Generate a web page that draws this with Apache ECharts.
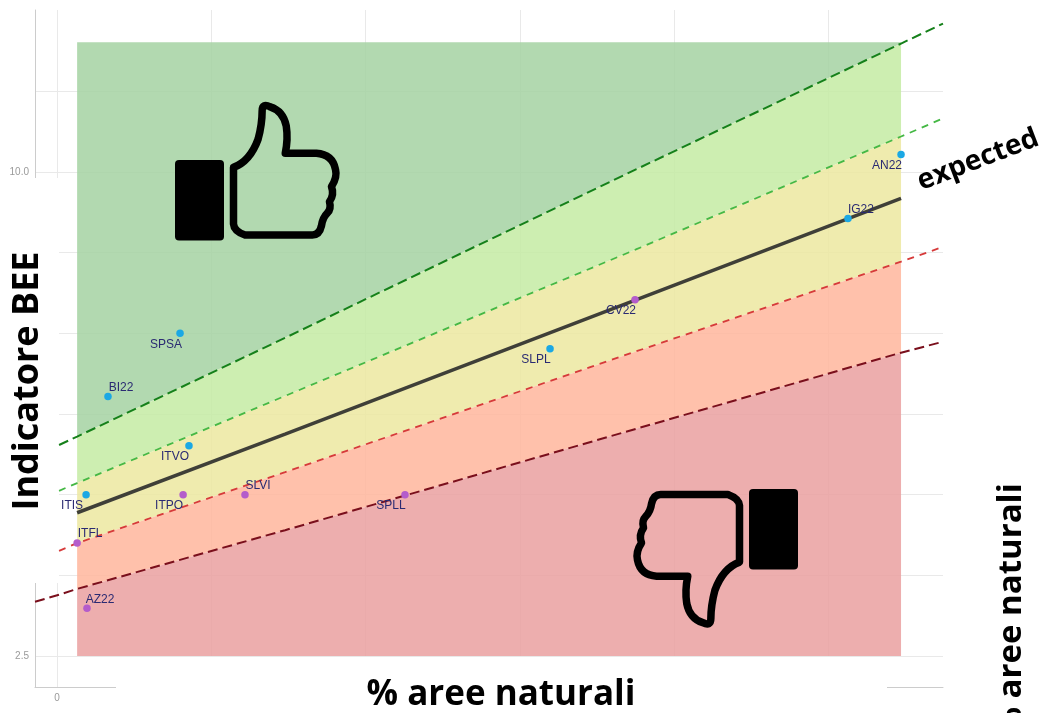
<!DOCTYPE html>
<html>
<head>
<meta charset="utf-8">
<style>html,body{margin:0;padding:0;background:#fff}#c{width:1044px;height:713px}</style>
<script src="https://cdn.jsdelivr.net/npm/echarts@6/dist/echarts.min.js"></script>
</head>
<body>
<div id="c"></div>
<script>
// --- data ---
const xTicks = [0, 10, 20, 30, 40, 50];
const xTickLabels = [0];
const yTicks = [2.5, 3.75, 5, 6.25, 7.5, 8.75, 10, 11.25];
const yTickLabels = [2.5, 10];

const pointsBlue = [
  ['AN22', 54.7, 10.27], ['IG22', 51.26, 9.28], ['SLPL', 31.95, 7.26], ['SPSA', 7.97, 7.5],
  ['BI22', 3.3, 6.52], ['ITVO', 8.55, 5.76], ['ITIS', 1.88, 5.0]
];
const pointsPurple = [
  ['CV22', 37.46, 8.02], ['SLVI', 12.18, 5.0], ['ITPO', 8.17, 5.0], ['SPLL', 22.55, 5.0],
  ['ITFL', 1.3, 4.25], ['AZ22', 1.94, 3.24]
];
const labelsAbove = ['IG22', 'BI22', 'SLVI', 'ITFL', 'AZ22'];

const lineX = [-1.43, 0.13, 1.3, 14.78, 37.52, 54.7, 57.42];
const lineDarkGreen = [null, 5.77, 5.9, 7.43, 10.04, 11.99, 12.3];
const lineGreen = [null, 5.06, 5.18, 6.53, 8.8, 10.55, 10.83];
const lineExpected = [null, null, 4.72, 5.94, 8.02, 9.59, null];
const lineRed = [null, 4.13, 4.25, 5.35, 7.22, 8.61, 8.84];
const lineDarkRed = [3.34, 3.45, 3.54, 4.45, 6.02, 7.2, 7.37];
const bandTop = [null, null, 12.01, 12.01, 12.01, 12.01, null];
const bandBottom = [null, null, 2.5, 2.5, 2.5, 2.5, null];

const thumbPath = 'M233.5 168 L233.5 224 Q234 231 245 235 L312 235 Q319 235 321 226 Q322 218 327 213 Q331 209 329 202 Q334 195 331 187 Q337 178 335 170 Q332 155 316 154 L285 154 Q288 140 286 127 Q283 112 270 108 Q262 104 262 112 Q262 125 258 140 Q250 162 233.5 168 Z';

// --- chart ---
const chart = echarts.init(document.getElementById('c'), null, {renderer: 'canvas'});
const TXT = '"Open Sans", "Noto Sans", sans-serif';

function band(name, upper, lower, color) {
  return {
    type: 'custom', name, z: 2, silent: true, clip: false, data: [[1.3, 2.5]],
    renderItem(params, api) {
      const pts = [];
      for (let i = 2; i <= 5; i++) pts.push(api.coord([lineX[i], upper[i]]));
      for (let i = 5; i >= 2; i--) pts.push(api.coord([lineX[i], lower[i]]));
      return {type: 'polygon', shape: {points: pts}, style: {fill: color}};
    }
  };
}
function line(name, values, color, width, dash) {
  return {
    type: 'line', name, z: 3, silent: true, symbol: 'none', clip: false,
    data: lineX.map((x, i) => [x, values[i]]),
    connectNulls: false,
    lineStyle: {color, width, type: dash || 'solid', cap: 'butt'}
  };
}
function scatter(name, pts, color) {
  return {
    type: 'scatter', name, z: 4, silent: true, symbol: 'circle', symbolSize: 7.5,
    itemStyle: {color, opacity: 1},
    data: pts.map(p => {
      const above = labelsAbove.includes(p[0]);
      return {
        value: [p[1], p[2]],
        label: {
          show: true, formatter: p[0], position: 'inside',
          offset: above ? [13, -9] : [-14, 11],
          color: '#2a2a72', fontSize: 12, fontFamily: '"Liberation Sans", Arial, sans-serif'
        }
      };
    })
  };
}
function blackBox(x, y) {
  return {type: 'rect', z: 5, shape: {x, y, width: 49, height: 80.5, r: 4}, style: {fill: '#000'}};
}
function thumb(name, extra) {
  return {
    type: 'custom', name, coordinateSystem: 'none', z: 5, silent: true, data: [[0]],
    renderItem() {
      return Object.assign({
        type: 'path',
        shape: {pathData: thumbPath, x: 233.5, y: 105.5, width: 102.5, height: 129.5, layout: 'cover'},
        style: {fill: 'none', stroke: '#000', lineWidth: 7.5, lineJoin: 'round'}
      }, extra);
    }
  };
}

chart.setOption({
  animation: false,
  backgroundColor: '#fff',
  grid: {left: 35, right: 101, top: 10, bottom: 26},
  xAxis: {
    type: 'value', min: -1.43, max: 57.42,
    axisLine: {show: true, onZero: false, lineStyle: {color: '#cccccc', width: 1}},
    axisTick: {show: false, customValues: xTicks},
    axisLabel: {customValues: xTickLabels, color: '#9a9a9a', fontSize: 10, margin: 6, fontFamily: '"Liberation Sans", Arial, sans-serif'},
    splitLine: {show: true, lineStyle: {color: '#e9e9e9', width: 1}}
  },
  yAxis: {
    type: 'value', min: 2.02, max: 12.51,
    axisLine: {show: true, onZero: false, lineStyle: {color: '#cccccc', width: 1}},
    axisTick: {show: false, customValues: yTicks},
    axisLabel: {customValues: yTickLabels, formatter: v => v.toFixed(1), color: '#9a9a9a', fontSize: 10, margin: 6, fontFamily: '"Liberation Sans", Arial, sans-serif'},
    splitLine: {show: true, lineStyle: {color: '#e9e9e9', width: 1}}
  },
  series: [
    band('top', bandTop, lineDarkGreen, 'rgba(165,210,162,0.85)'),
    band('better', lineDarkGreen, lineGreen, 'rgba(196,235,163,0.85)'),
    band('near', lineGreen, lineRed, 'rgba(236,232,160,0.85)'),
    band('worse', lineRed, lineDarkRed, 'rgba(255,182,156,0.85)'),
    band('bottom', lineDarkRed, bandBottom, 'rgba(234,160,160,0.85)'),
    line('upper high', lineDarkGreen, '#15801a', 2, [10, 5]),
    line('upper', lineGreen, '#45b845', 1.8, [7, 6]),
    line('expected', lineExpected, '#3f3f38', 3.5, null),
    line('lower', lineRed, '#d63a3a', 1.8, [7, 6]),
    line('lower low', lineDarkRed, '#7a0f1c', 2, [10, 5]),
    scatter('blue', pointsBlue, '#1ba8e4'),
    scatter('purple', pointsPurple, '#b45ccb'),
    thumb('thumb up', {}),
    thumb('thumb down', {x: 973, y: 729.5, rotation: Math.PI})
  ],
  graphic: {elements: [
    {type: 'rect', z: 1, shape: {x: 0, y: 178, width: 59, height: 405}, style: {fill: '#fff'}},
    {type: 'rect', z: 1, shape: {x: 116, y: 657, width: 771, height: 56}, style: {fill: '#fff'}},
    blackBox(175, 160),
    blackBox(749, 489),
    {type: 'text', z: 6, x: 28, y: 381, rotation: Math.PI / 2,
      style: {text: 'Indicatore BEE', fill: '#000', font: '700 36px ' + TXT, textAlign: 'center', textVerticalAlign: 'middle'}},
    {type: 'text', z: 6, x: 501, y: 695,
      style: {text: '% aree naturali', fill: '#000', font: '700 35px ' + TXT, textAlign: 'center', textVerticalAlign: 'middle'}},
    {type: 'text', z: 6, x: 1012, y: 610, rotation: Math.PI / 2,
      style: {text: '% aree naturali', fill: '#000', font: '700 33px ' + TXT, textAlign: 'center', textVerticalAlign: 'middle'}},
    {type: 'text', z: 6, x: 978, y: 160, rotation: 21 * Math.PI / 180,
      style: {text: 'expected', fill: '#000', font: '700 28px ' + TXT, textAlign: 'center', textVerticalAlign: 'middle'}}
  ]}
});
</script>
</body>
</html>
